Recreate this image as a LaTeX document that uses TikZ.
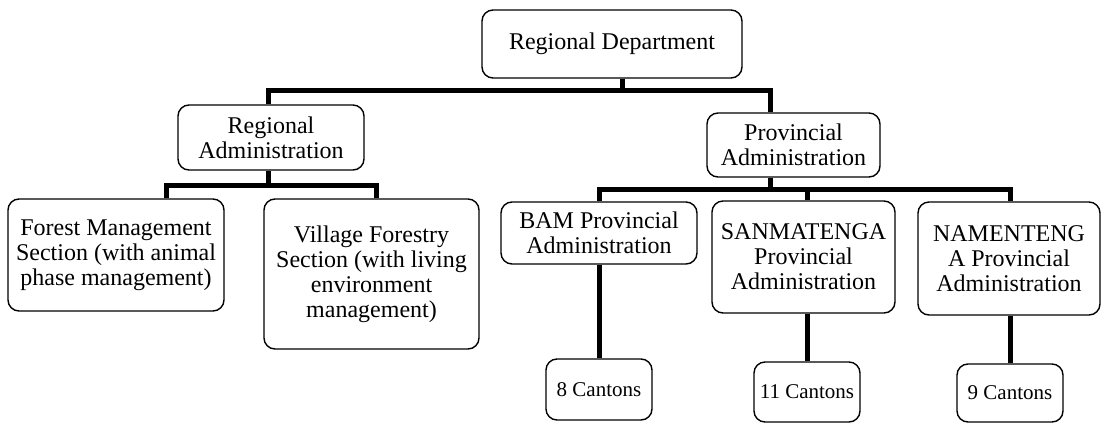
\documentclass[tikz,border=0pt]{standalone}
\usepackage{fontspec}
\setmainfont{Liberation Serif}
\begin{document}
\begin{tikzpicture}[x=1pt,y=-1pt,
  box/.style={draw, line width=1.4pt, rounded corners=11pt, align=center,
    inner sep=0pt, font=\fontsize{24}{25}\selectfont},
  small/.style={font=\fontsize{21}{23}\selectfont},
  conn/.style={line width=5pt, line join=miter}]
\useasboundingbox (0,0) rectangle (1106,424);

% boxes
\node[box, minimum width=260pt, minimum height=68pt]  (rd)  at (612,44)    {Regional Department};
\node[box, minimum width=186pt, minimum height=65pt]  (ra)  at (271,137.5) {Regional\\Administration};
\node[box, minimum width=173pt, minimum height=64pt]  (pa)  at (793.5,145) {Provincial\\Administration};
\node[box, minimum width=216pt, minimum height=112pt] (fm)  at (116,255)   {Forest Management\\Section (with animal\\phase management)};
\node[box, minimum width=215pt, minimum height=150pt] (vf)  at (371.5,274) {Village Forestry\\Section (with living\\environment\\management)};
\node[box, minimum width=196pt, minimum height=62pt]  (bam) at (599,233)   {BAM Provincial\\Administration};
\node[box, minimum width=183pt, minimum height=112pt] (san) at (803.5,257) {SANMATENGA\\Provincial\\Administration};
\node[box, minimum width=182pt, minimum height=113pt] (nam) at (1009,258.5) {NAMENTENG\\A Provincial\\Administration};
\node[box, small, minimum width=106pt, minimum height=61pt] (c8)  at (599,389.5) {8 Cantons};
\node[box, small, minimum width=106pt, minimum height=60pt] (c11) at (807,392)   {11 Cantons};
\node[box, small, minimum width=106pt, minimum height=58pt] (c9)  at (1010,393)  {9 Cantons};

% bus junctions
\coordinate (rdDrop) at (622,90);
\coordinate (topL)   at (268,90);
\coordinate (topR)   at (770,90);
\coordinate (raDrop) at (268,185);
\coordinate (raL)    at (166,185);
\coordinate (raR)    at (376,185);
\coordinate (paDrop) at (770,189);
\coordinate (paL)    at (599,189);
\coordinate (paM)    at (807,189);
\coordinate (paR)    at (1010,189);

% connectors
\draw[conn] (rd.south -| rdDrop) -- (rdDrop);
\draw[conn] (ra.north -| topL) -- (topL) -- (topR) -- (pa.north -| topR);
\draw[conn] (ra.south -| raDrop) -- (raDrop);
\draw[conn] (fm.north -| raL) -- (raL) -- (raR) -- (vf.north -| raR);
\draw[conn] (pa.south -| paDrop) -- (paDrop);
\draw[conn] (bam.north -| paL) -- (paL) -- (paR) -- (nam.north -| paR);
\draw[conn] (paM) -- (san.north -| paM);
\draw[conn] (bam.south -| c8.north) -- (c8.north);
\draw[conn] (san.south -| c11.north) -- (c11.north);
\draw[conn] (nam.south -| c9.north) -- (c9.north);
\end{tikzpicture}
\end{document}
